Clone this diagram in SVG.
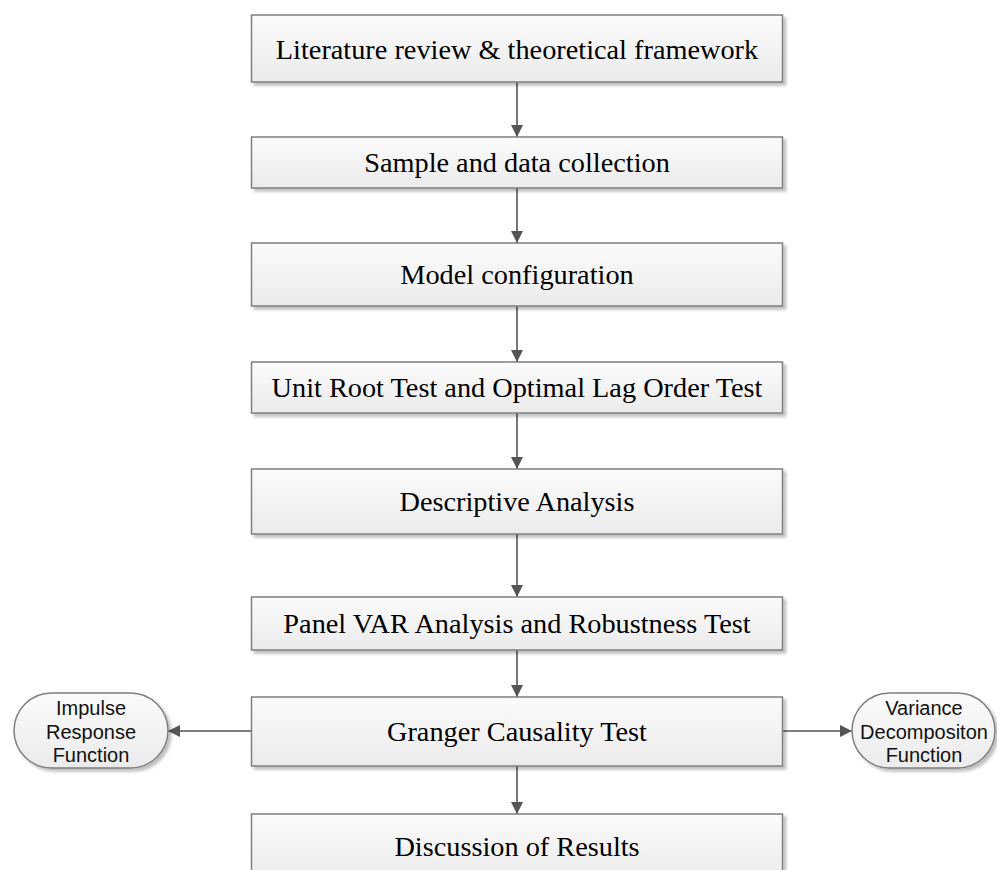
<svg xmlns="http://www.w3.org/2000/svg" width="997" height="870" viewBox="0 0 997 870">
<defs>
<linearGradient id="g" x1="0" y1="0" x2="0" y2="1">
<stop offset="0" stop-color="#fbfbfb"/>
<stop offset="1" stop-color="#ebebeb"/>
</linearGradient>
<filter id="sh" x="-5%" y="-10%" width="115%" height="130%">
<feGaussianBlur in="SourceAlpha" stdDeviation="1.5"/>
<feOffset dx="3" dy="3" result="o"/>
<feComponentTransfer><feFuncA type="linear" slope="0.25"/></feComponentTransfer>
<feMerge><feMergeNode/><feMergeNode in="SourceGraphic"/></feMerge>
</filter>
<marker id="ah" viewBox="0 0 12 12" refX="12" refY="6" markerWidth="12" markerHeight="12" markerUnits="userSpaceOnUse" orient="auto">
<path d="M0,0 L12,6 L0,12 Z" fill="#555"/>
</marker>
</defs>
<style>
.box{fill:url(#g);stroke:#7f7f7f;stroke-width:1.5;filter:url(#sh)}
.t{font-family:"Liberation Serif","Times New Roman",serif;font-size:28.3px;fill:#000;text-anchor:middle}
.s{font-family:"Liberation Sans",Arial,sans-serif;font-size:20px;fill:#111;text-anchor:middle}
.c{stroke:#555;stroke-width:1.6;fill:none;marker-end:url(#ah)}
</style>
<rect width="997" height="870" fill="#fff"/>
<g id="connectors">
<line class="c" x1="517" y1="82" x2="517" y2="137"/>
<line class="c" x1="517" y1="188" x2="517" y2="243"/>
<line class="c" x1="517" y1="306" x2="517" y2="362"/>
<line class="c" x1="517" y1="413" x2="517" y2="469"/>
<line class="c" x1="517" y1="534" x2="517" y2="597"/>
<line class="c" x1="517" y1="650" x2="517" y2="697"/>
<line class="c" x1="517" y1="766" x2="517" y2="814"/>
<line class="c" x1="251.5" y1="731" x2="168" y2="731"/>
<line class="c" x1="782.5" y1="731" x2="852" y2="731"/>
</g>
<g id="n1"><rect class="box" x="251.5" y="15" width="531" height="67"/><text class="t" x="517" y="59">Literature review &amp; theoretical framework</text></g>
<g id="n2"><rect class="box" x="251.5" y="137" width="531" height="51"/><text class="t" x="517" y="172">Sample and data collection</text></g>
<g id="n3"><rect class="box" x="251.5" y="243" width="531" height="63"/><text class="t" x="517" y="284">Model configuration</text></g>
<g id="n4"><rect class="box" x="251.5" y="362" width="531" height="51"/><text class="t" x="517" y="397">Unit Root Test and Optimal Lag Order Test</text></g>
<g id="n5"><rect class="box" x="251.5" y="469" width="531" height="65"/><text class="t" x="517" y="511">Descriptive Analysis</text></g>
<g id="n6"><rect class="box" x="251.5" y="597" width="531" height="53"/><text class="t" x="517" y="633">Panel VAR Analysis and Robustness Test</text></g>
<g id="n7"><rect class="box" x="251.5" y="697" width="531" height="69"/><text class="t" x="517" y="741">Granger Causality Test</text></g>
<g id="n8"><rect class="box" x="251.5" y="814" width="531" height="66"/><text class="t" x="517" y="856">Discussion of Results</text></g>
<g id="n9"><rect class="box" x="14" y="693" width="154" height="75" rx="37.5" ry="37.5"/><text class="s" x="91" y="715">Impulse</text><text class="s" x="91" y="739">Response</text><text class="s" x="91" y="762">Function</text></g>
<g id="n10"><rect class="box" x="852" y="693" width="143" height="75" rx="37.5" ry="37.5"/><text class="s" x="924" y="715">Variance</text><text class="s" x="924" y="739">Decompositon</text><text class="s" x="924" y="762">Function</text></g>
</svg>
